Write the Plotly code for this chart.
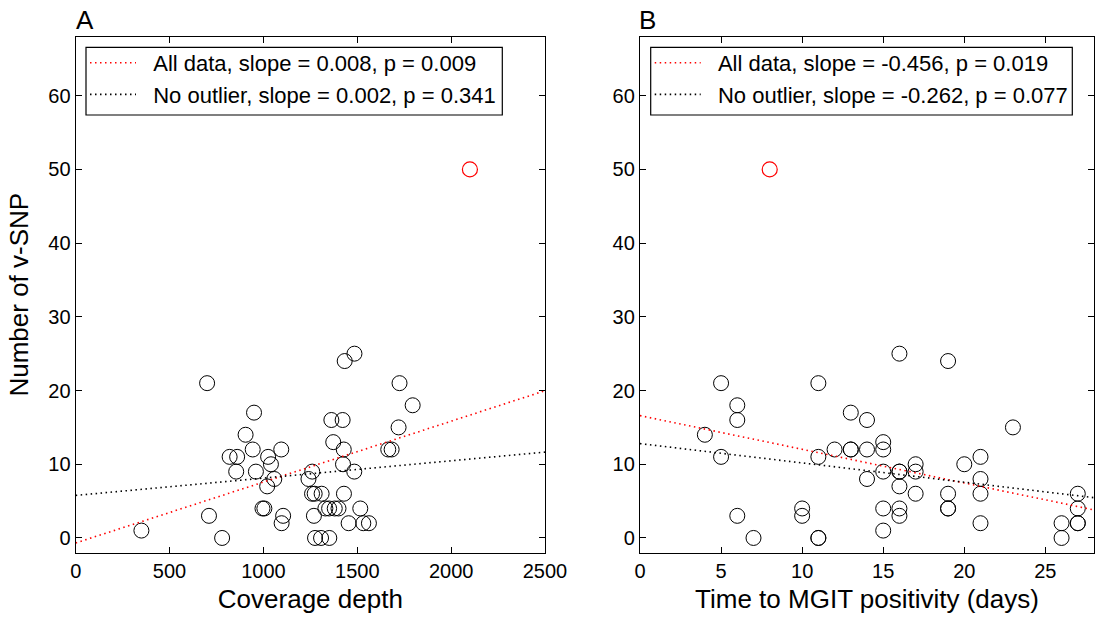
import plotly.graph_objects as go

# ---------------- data ----------------
# Panel A: coverage depth vs number of v-SNP
cov_depth = [350, 700, 710, 780, 820, 860, 855, 905, 943, 950, 960, 995, 1005, 1020,
             1025, 1040, 1058, 1095, 1097, 1105, 1240, 1260, 1259, 1273, 1269, 1275,
             1307, 1351, 1310, 1330, 1350, 1380, 1400, 1362, 1372, 1422, 1428, 1424,
             1429, 1433, 1454, 1484, 1485, 1516, 1532, 1562, 1665, 1683, 1720, 1725, 1795]
vsnp_a = [1, 21, 3, 0, 11, 11, 9, 14, 12, 17, 9, 4, 4, 7,
          11, 10, 8, 12, 2, 3, 8, 9, 6, 6, 3, 0,
          0, 0, 6, 4, 4, 4, 4, 16, 13, 16, 12, 10,
          6, 24, 2, 9, 25, 4, 2, 2, 12, 12, 15, 21, 18]
outlier_depth = [2100]
outlier_vsnp = [50]

# Panel B: time to MGIT positivity vs number of v-SNP
mgit_days = [4, 5, 5, 6, 6, 6, 7, 10, 10, 11, 11, 11, 11, 12, 13, 13, 13, 14, 14, 14,
             15, 15, 15, 15, 15, 16, 16, 16, 16, 16, 16, 17, 17, 17, 19, 19, 19, 19,
             20, 21, 21, 21, 21, 23, 26, 26, 27, 27, 27, 27]
vsnp_b = [14, 21, 11, 18, 16, 3, 0, 4, 3, 21, 11, 0, 0, 12, 17, 12, 12, 16, 12, 8,
          13, 12, 9, 4, 1, 25, 9, 9, 7, 4, 3, 10, 9, 6, 24, 6, 4, 4,
          10, 11, 8, 6, 2, 15, 2, 0, 6, 4, 2, 2]
outlier_days = [8]

# Regression fits: [intercept, slope]
fit_a_all = [-0.68, 0.00826]
fit_a_noout = [5.77, 0.00235]
fit_b_all = [16.6, -0.457]
fit_b_noout = [12.8, -0.262]

legend_a = ["All data, slope = 0.008, p = 0.009", "No outlier, slope = 0.002, p = 0.341"]
legend_b = ["All data, slope = -0.456, p = 0.019", "No outlier, slope = -0.262, p = 0.077"]

xrange_a = [0, 2500]
xrange_b = [0, 28]
yrange = [-2, 68]
xticks_a = [0, 500, 1000, 1500, 2000, 2500]
xticks_b = [0, 5, 10, 15, 20, 25]
yticks = [0, 10, 20, 30, 40, 50, 60]

FONT = "Liberation Sans, Arial, sans-serif"
DOT = "1.5px,3.5px"
PAD = "&nbsp;&nbsp;"

fig = go.Figure()


def fit_line(fit, xr):
    xs = [xr[0], xr[1]]
    ys = [fit[0] + fit[1] * x for x in xs]
    return xs, ys


def add_panel(xv, yv, ox, oy, fa, fn, xr, names, xa, ya, leg):
    fig.add_trace(go.Scatter(x=xv, y=yv, mode="markers", xaxis=xa, yaxis=ya,
                             marker=dict(size=15, color="rgba(0,0,0,0)",
                                         line=dict(color="black", width=1)),
                             showlegend=False, hoverinfo="skip"))
    fig.add_trace(go.Scatter(x=ox, y=oy, mode="markers", xaxis=xa, yaxis=ya,
                             marker=dict(size=15, color="rgba(0,0,0,0)",
                                         line=dict(color="red", width=1.2)),
                             showlegend=False, hoverinfo="skip"))
    xs, ys = fit_line(fa, xr)
    fig.add_trace(go.Scatter(x=xs, y=ys, mode="lines", xaxis=xa, yaxis=ya,
                             line=dict(color="red", width=1.6, dash=DOT),
                             name=PAD + names[0], legend=leg))
    xs, ys = fit_line(fn, xr)
    fig.add_trace(go.Scatter(x=xs, y=ys, mode="lines", xaxis=xa, yaxis=ya,
                             line=dict(color="black", width=1.6, dash=DOT),
                             name=PAD + names[1], legend=leg))


add_panel(cov_depth, vsnp_a, outlier_depth, outlier_vsnp, fit_a_all, fit_a_noout,
          xrange_a, legend_a, "x", "y", "legend")
add_panel(mgit_days, vsnp_b, outlier_days, outlier_vsnp, fit_b_all, fit_b_noout,
          xrange_b, legend_b, "x2", "y2", "legend2")

W, H = 1103, 617
ydom = [1 - 552.7 / H, 1 - 36.7 / H]

axis_common = dict(showline=True, linecolor="black", linewidth=1.3, mirror="ticks",
                   ticks="inside", ticklen=6, tickwidth=1.2, tickcolor="black",
                   showgrid=False, zeroline=False, automargin=False,
                   tickfont=dict(family=FONT, size=20, color="black"),
                   title_font=dict(family=FONT, size=26, color="black"))

legend_common = dict(xanchor="left", yanchor="top", bgcolor="rgba(0,0,0,0)",
                     borderwidth=0, font=dict(family=FONT, size=22, color="black"),
                     itemwidth=46)

box_style = dict(type="rect", xref="paper", yref="paper", layer="above",
                 line=dict(color="black", width=1.2), fillcolor="white")

fig.update_layout(
    width=W, height=H,
    margin=dict(l=0, r=0, t=0, b=0),
    paper_bgcolor="white", plot_bgcolor="white",
    font=dict(family=FONT, color="black"),
    xaxis=dict(domain=[75.7 / W, 545 / W], range=xrange_a, tickvals=xticks_a,
               title=dict(text="Coverage depth", standoff=8), anchor="y", **axis_common),
    yaxis=dict(domain=ydom, range=yrange, tickvals=yticks,
               title=dict(text="Number of v-SNP", standoff=12), anchor="x", **axis_common),
    xaxis2=dict(domain=[640 / W, 1094 / W], range=xrange_b, tickvals=xticks_b,
                title=dict(text="Time to MGIT positivity (days)", standoff=8), anchor="y2",
                **axis_common),
    yaxis2=dict(domain=ydom, range=yrange, tickvals=yticks, anchor="x2", **axis_common),
    legend=dict(x=85 / W, y=1 - 42 / H, **legend_common),
    legend2=dict(x=649.7 / W, y=1 - 42 / H, **legend_common),
    shapes=[
        dict(x0=86 / W, x1=502.3 / W, y0=1 - 115 / H, y1=1 - 47.3 / H, **box_style),
        dict(x0=650.7 / W, x1=1072.3 / W, y0=1 - 115 / H, y1=1 - 47.3 / H, **box_style),
    ],
    annotations=[
        dict(text="A", x=74 / W, y=1 - 19.5 / H, xref="paper", yref="paper",
             xanchor="left", yanchor="middle", showarrow=False,
             font=dict(family=FONT, size=26, color="black")),
        dict(text="B", x=637 / W, y=1 - 19.5 / H, xref="paper", yref="paper",
             xanchor="left", yanchor="middle", showarrow=False,
             font=dict(family=FONT, size=26, color="black")),
    ],
)

fig.write_html("out.html")
